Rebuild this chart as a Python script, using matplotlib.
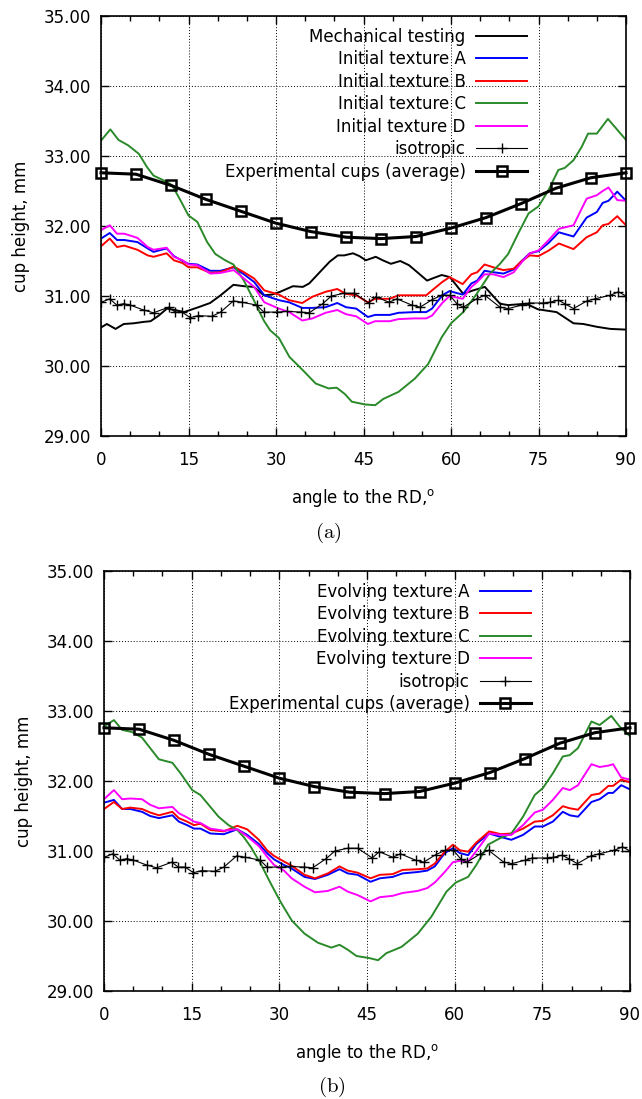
import matplotlib
matplotlib.use("Agg")
import matplotlib.pyplot as plt
from matplotlib.ticker import MultipleLocator, FormatStrFormatter

# ---------------- data ----------------
# experimental cups (average), measured every 6 degrees
EXP_ANG = [0, 6, 12, 18, 24, 30, 36, 42, 48, 54, 60, 66, 72, 78, 84, 90]
EXP_VAL = [32.76, 32.74, 32.58, 32.38, 32.21, 32.04, 31.92, 31.84, 31.82,
           31.85, 31.97, 32.12, 32.32, 32.54, 32.69, 32.76]

# isotropic model
ISO_ANG = [0, 1.5, 2.7, 3.9, 5.0, 7.3, 9.0, 11.6, 12.7, 13.9, 15.3, 16.7, 19.0,
           20.5, 22.7, 24.2, 26.7, 27.9, 30.2, 31.9, 34.3, 35.7, 38.0, 39.5,
           41.7, 43.4, 45.9, 47.1, 49.4, 50.7, 53.3, 54.7, 56.8, 58.4, 59.8,
           61.0, 62.1, 64.4, 65.8, 68.4, 69.8, 72.1, 73.3, 75.8, 76.9, 78.4,
           79.5, 81.0, 83.3, 84.7, 87.3, 88.7, 90]
ISO_VAL = [30.91, 30.96, 30.87, 30.89, 30.87, 30.80, 30.76, 30.84, 30.77, 30.77,
           30.69, 30.72, 30.71, 30.77, 30.93, 30.91, 30.87, 30.77, 30.77, 30.78,
           30.77, 30.76, 30.89, 31.00, 31.04, 31.04, 30.90, 30.99, 30.91, 30.96,
           30.87, 30.84, 30.95, 31.01, 31.01, 30.89, 30.84, 30.96, 31.01, 30.84,
           30.82, 30.87, 30.90, 30.90, 30.91, 30.94, 30.89, 30.82, 30.93, 30.96,
           31.01, 31.06, 31.00]

# (a) mechanical testing
MECH_ANG = [0, 1, 2.5, 3.9, 5.6, 7.3, 8.5, 9.9, 11.3, 12.7, 14.2, 15.3, 16.7,
            18.7, 20.5, 22.7, 24.5, 26.2, 27.9, 29.3, 30.7, 32.9, 34.6, 35.7,
            37.5, 39.2, 40.6, 41.7, 43.2, 44.3, 45.4, 47.1, 48.3, 49.7, 51.3,
            52.8, 54.5, 55.9, 56.8, 58.4, 59.8, 62.1, 63.8, 65.8, 68.4, 69.8,
            72.9, 74.9, 78.1, 81, 82.7, 85, 87.3, 90]
MECH_VAL = [30.55, 30.60, 30.53, 30.60, 30.61, 30.63, 30.64, 30.72, 30.82, 30.80,
            30.77, 30.80, 30.84, 30.90, 31.01, 31.16, 31.14, 31.13, 31.01, 31.02,
            31.06, 31.14, 31.13, 31.18, 31.34, 31.49, 31.58, 31.58, 31.61, 31.57,
            31.51, 31.56, 31.51, 31.46, 31.50, 31.44, 31.32, 31.22, 31.25, 31.30,
            31.27, 31.03, 31.08, 31.13, 30.89, 30.87, 30.89, 30.81, 30.77, 30.61,
            30.60, 30.56, 30.53, 30.52]

# (a) initial textures A, B, D
INIT_ANG = [0, 1.5, 2.75, 4, 6.25, 8, 9, 11.25, 12.5, 14, 15, 16.5, 18.75, 20.5,
            22.75, 24.5, 26.25, 28, 30.5, 32.25, 34.5, 36.25, 38.5, 40.5, 42,
            43.75, 45.75, 47, 49.5, 51, 53.75, 55.75, 56.75, 58.5, 59.75, 62,
            63.5, 64.5, 65.75, 67.25, 69, 70.75, 72, 73.5, 75, 76.75, 78.5, 81,
            83.25, 85, 86, 87, 88.5, 90]
INIT_A = [31.82, 31.90, 31.80, 31.80, 31.77, 31.68, 31.63, 31.68, 31.57, 31.50,
          31.46, 31.45, 31.36, 31.36, 31.41, 31.31, 31.20, 31.01, 30.94, 30.91,
          30.83, 30.83, 30.84, 30.90, 30.84, 30.82, 30.70, 30.73, 30.73, 30.76,
          30.77, 30.77, 30.82, 31.01, 31.07, 31.02, 31.18, 31.22, 31.36, 31.34,
          31.32, 31.38, 31.49, 31.61, 31.64, 31.76, 31.91, 31.85, 32.12, 32.20,
          32.33, 32.36, 32.49, 32.36]
INIT_B = [31.71, 31.82, 31.70, 31.72, 31.66, 31.58, 31.56, 31.61, 31.51, 31.47,
          31.41, 31.41, 31.33, 31.34, 31.42, 31.34, 31.25, 31.08, 31.02, 30.94,
          30.90, 30.99, 31.06, 31.10, 31.03, 31.01, 30.91, 30.96, 30.96, 31.01,
          31.01, 31.01, 31.08, 31.20, 31.27, 31.17, 31.31, 31.34, 31.45, 31.41,
          31.37, 31.39, 31.49, 31.58, 31.57, 31.65, 31.75, 31.67, 31.84, 31.91,
          32.01, 32.03, 32.14, 32.01]
INIT_D = [31.94, 32.01, 31.89, 31.89, 31.83, 31.70, 31.66, 31.69, 31.56, 31.51,
          31.45, 31.44, 31.32, 31.33, 31.37, 31.25, 31.13, 30.91, 30.82, 30.77,
          30.65, 30.68, 30.76, 30.80, 30.74, 30.71, 30.60, 30.64, 30.64, 30.67,
          30.68, 30.68, 30.72, 30.90, 31.00, 30.96, 31.13, 31.20, 31.31, 31.31,
          31.27, 31.34, 31.47, 31.61, 31.65, 31.80, 31.96, 32.01, 32.39, 32.44,
          32.50, 32.55, 32.37, 32.36]

# (a) initial texture C
INIT_C_ANG = [0, 1.6, 3, 4.7, 6.5, 7.9, 9, 11.3, 12.2, 13.6, 15, 16.5, 18.2,
              19.6, 21.3, 22.7, 24.5, 26.2, 27.9, 29, 30.5, 32.3, 34.6, 36.8, 39,
              40.4, 41.8, 43, 45.3, 47, 48.4, 51, 53.8, 56.1, 58.4, 60, 62.1,
              64.4, 66.7, 68.4, 69.8, 71.5, 73.3, 75, 76.7, 78.4, 79.5, 81,
              82.4, 83.5, 85, 86.9, 90]
INIT_C = [33.22, 33.38, 33.23, 33.15, 33.03, 32.84, 32.72, 32.63, 32.58, 32.37,
          32.15, 32.06, 31.77, 31.60, 31.51, 31.45, 31.22, 30.94, 30.65, 30.51,
          30.40, 30.13, 29.94, 29.75, 29.68, 29.69, 29.60, 29.49, 29.45, 29.44,
          29.53, 29.63, 29.82, 30.03, 30.41, 30.61, 30.77, 31.03, 31.32, 31.46,
          31.60, 31.89, 32.18, 32.28, 32.51, 32.80, 32.83, 32.94, 33.13, 33.32,
          33.32, 33.53, 33.23]

# (b) evolving textures A, B, D
EVOL_ANG = [0, 1.7, 3.1, 4.5, 6.5, 7.9, 9.4, 11.7, 12.8, 14.2, 15.4, 16.5, 18.2,
            20.5, 22.8, 24.5, 26.5, 27.9, 29.1, 30.8, 32.1, 34.3, 36.1, 38.3,
            40.3, 41.7, 43.4, 45.6, 47.2, 49.4, 51.1, 53.7, 55.3, 56.6, 58.3,
            59.7, 60.9, 62.3, 63.7, 65.9, 67.9, 69.7, 71.7, 73.7, 75.1, 76.8,
            78.5, 79.7, 81.1, 83.4, 84.8, 86.3, 87.1, 88.5, 90]
EVOL_A = [31.69, 31.73, 31.60, 31.60, 31.56, 31.50, 31.47, 31.51, 31.42, 31.37,
          31.32, 31.32, 31.25, 31.24, 31.31, 31.23, 31.10, 30.97, 30.88, 30.80,
          30.75, 30.63, 30.60, 30.66, 30.74, 30.68, 30.66, 30.56, 30.61, 30.63,
          30.68, 30.70, 30.72, 30.78, 30.97, 31.04, 30.97, 30.94, 31.10, 31.25,
          31.20, 31.16, 31.23, 31.35, 31.35, 31.42, 31.56, 31.51, 31.49, 31.70,
          31.74, 31.83, 31.83, 31.94, 31.88]
EVOL_B = [31.60, 31.70, 31.60, 31.62, 31.60, 31.55, 31.51, 31.56, 31.47, 31.42,
          31.37, 31.39, 31.30, 31.28, 31.36, 31.31, 31.16, 31.01, 30.93, 30.85,
          30.79, 30.66, 30.61, 30.68, 30.78, 30.72, 30.69, 30.61, 30.66, 30.67,
          30.73, 30.74, 30.75, 30.82, 30.99, 31.09, 31.01, 30.99, 31.12, 31.28,
          31.24, 31.25, 31.32, 31.42, 31.43, 31.51, 31.64, 31.61, 31.59, 31.80,
          31.82, 31.93, 31.93, 32.02, 31.98]
EVOL_D = [31.74, 31.87, 31.74, 31.75, 31.74, 31.66, 31.61, 31.63, 31.54, 31.48,
          31.42, 31.40, 31.32, 31.29, 31.31, 31.21, 31.07, 30.92, 30.80, 30.72,
          30.61, 30.49, 30.41, 30.43, 30.49, 30.42, 30.37, 30.28, 30.34, 30.36,
          30.40, 30.43, 30.47, 30.55, 30.70, 30.84, 30.86, 30.85, 31.00, 31.25,
          31.23, 31.23, 31.37, 31.55, 31.59, 31.73, 31.90, 31.87, 31.94, 32.24,
          32.20, 32.22, 32.24, 32.05, 32.02]

# (b) evolving texture C
EVOL_C_ANG = [0, 1.7, 3.1, 4.8, 6.5, 7.9, 9.4, 11.7, 13.1, 15.1, 16.5, 18.2,
              19.6, 21.3, 22.8, 23.9, 25.1, 26.8, 28.5, 30.3, 32.1, 34.3, 36.6,
              38.9, 40.3, 41.7, 43.2, 45.4, 46.9, 48.3, 50.9, 53.7, 56.0, 58.6,
              60.2, 62.3, 63.7, 65.7, 67.7, 69.7, 71.7, 73.7, 75.1, 76.8, 78.5,
              79.7, 81.1, 83.4, 84.8, 86.8, 88.2, 90]
EVOL_C = [32.78, 32.87, 32.73, 32.70, 32.62, 32.47, 32.31, 32.26, 32.11, 31.87,
          31.80, 31.63, 31.49, 31.37, 31.30, 31.20, 31.06, 30.82, 30.54, 30.26,
          30.01, 29.82, 29.69, 29.62, 29.66, 29.59, 29.50, 29.47, 29.44, 29.54,
          29.63, 29.82, 30.06, 30.42, 30.55, 30.63, 30.80, 31.09, 31.18, 31.25,
          31.49, 31.80, 31.90, 32.11, 32.35, 32.37, 32.47, 32.85, 32.80, 32.93,
          32.78, 32.64]

X_TICKS = [0, 15, 30, 45, 60, 75, 90]
Y_TICKS = [29, 30, 31, 32, 33, 34, 35]

# ---------------- styling ----------------
FONT = "DejaVu Sans"
FS = 12
BLUE, RED, GREEN, MAGENTA = "#0000ff", "#ff0000", "#2a8a2a", "#ff00ff"

plt.rcParams["font.family"] = [FONT]
plt.rcParams["font.size"] = FS

fig = plt.figure(figsize=(6.42, 10.99), dpi=100)
ax_a = fig.add_axes([101 / 642, 1 - 436 / 1099, 525 / 642, 420 / 1099])
ax_b = fig.add_axes([104 / 642, 1 - 991 / 1099, 526 / 642, 420 / 1099])


def style_axes(ax):
    ax.set_xlim(0, 90)
    ax.set_ylim(29, 35)
    ax.set_xticks(X_TICKS)
    ax.set_yticks(Y_TICKS)
    ax.xaxis.set_minor_locator(MultipleLocator(5))
    ax.yaxis.set_major_formatter(FormatStrFormatter("%.2f"))
    ax.tick_params(which="both", direction="in", top=True, right=True,
                   width=1.0, labelsize=FS, colors="black")
    ax.tick_params(which="major", length=6)
    ax.tick_params(which="minor", length=3.5)
    ax.tick_params(axis="y", pad=7)
    ax.tick_params(axis="x", pad=11)
    ax.grid(True, which="major", linestyle=(0, (1, 2)), color="black",
            linewidth=0.7)
    ax.set_axisbelow(True)
    for s in ax.spines.values():
        s.set_linewidth(1.2)
    ax.set_ylabel("cup height, mm", fontsize=FS, labelpad=10)
    ax.set_xlabel(r"angle to the RD,$^{\rm o}$", fontsize=FS, labelpad=13,
                  math_fontfamily="dejavusans")


def draw_common(ax):
    ax.plot(ISO_ANG, ISO_VAL, color="black", lw=0.8, marker="+", ms=7,
            mew=1.0, label="isotropic")
    ax.plot(EXP_ANG, EXP_VAL, color="black", lw=2.2, marker="s", ms=6.5,
            mfc="none", mec="black", mew=1.8, clip_on=False, zorder=5,
            label="Experimental cups (average)")


def add_legend(ax):
    ax.legend(loc="upper right", bbox_to_anchor=(0.828, 0.992),
              frameon=False, markerfirst=False, borderpad=0, fontsize=FS,
              handlelength=3.1, handletextpad=0.6, labelspacing=0.27)


# (a) initial textures
ax_a.plot(MECH_ANG, MECH_VAL, color="black", lw=1.4, label="Mechanical testing")
ax_a.plot(INIT_ANG, INIT_A, color=BLUE, lw=1.4, label="Initial texture A")
ax_a.plot(INIT_ANG, INIT_B, color=RED, lw=1.4, label="Initial texture B")
ax_a.plot(INIT_C_ANG, INIT_C, color=GREEN, lw=1.4, label="Initial texture C")
ax_a.plot(INIT_ANG, INIT_D, color=MAGENTA, lw=1.4, label="Initial texture D")
draw_common(ax_a)
style_axes(ax_a)
add_legend(ax_a)

# (b) evolving textures
ax_b.plot(EVOL_ANG, EVOL_A, color=BLUE, lw=1.4, label="Evolving texture A")
ax_b.plot(EVOL_ANG, EVOL_B, color=RED, lw=1.4, label="Evolving texture B")
ax_b.plot(EVOL_C_ANG, EVOL_C, color=GREEN, lw=1.4, label="Evolving texture C")
ax_b.plot(EVOL_ANG, EVOL_D, color=MAGENTA, lw=1.4, label="Evolving texture D")
draw_common(ax_b)
style_axes(ax_b)
add_legend(ax_b)

# panel captions
fig.text(328 / 642, 1 - 533 / 1099, r"$\mathrm{(a)}$", ha="center", va="center",
         fontsize=15, math_fontfamily="cm")
fig.text(332 / 642, 1 - 1087 / 1099, r"$\mathrm{(b)}$", ha="center", va="center",
         fontsize=15, math_fontfamily="cm")

fig.savefig("out.png", dpi=100)
